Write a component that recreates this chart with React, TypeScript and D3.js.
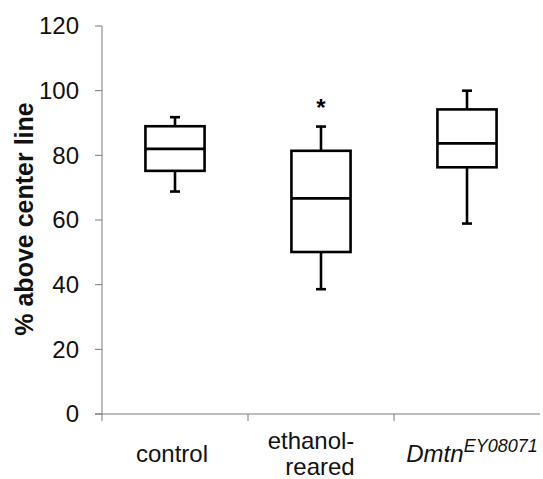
import React from 'react';
import * as d3 from 'd3';

// values
const categories = ['control', 'ethanol-reared', 'Dmtn'];
const whiskerLow = [68.8, 38.6, 58.9];
const q1 = [75.2, 50.1, 76.3];
const median = [82.0, 66.7, 83.7];
const q3 = [89.0, 81.4, 94.2];
const whiskerHigh = [91.8, 88.9, 100.0];
const significant = [false, true, false];
const yTicks = [0, 20, 40, 60, 80, 100, 120];
const yLabel = '% above center line';

const width = 543;
const height = 479;
const margin = { top: 26, right: 3, bottom: 65, left: 102 };
const font = '"Liberation Sans", Arial, sans-serif';

const App = () => {
    const x = d3
        .scaleBand<string>()
        .domain(categories)
        .range([margin.left, width - margin.right])
        .padding(0);
    const y = d3
        .scaleLinear()
        .domain([0, 120])
        .range([height - margin.bottom, margin.top]);

    const bw = x.bandwidth();
    const boxW = bw * 0.405;
    const capW = 10;
    const axisColor = '#7a7a7a';
    const y0 = y(0);

    return (
        <svg
            width={width}
            height={height}
            style={{ position: 'absolute', left: 0, top: 0, background: '#fff' }}
            fontFamily={font}
        >
            {/* y axis */}
            <line x1={margin.left} x2={margin.left} y1={y(120)} y2={y0} stroke={axisColor} strokeWidth={1} />
            {yTicks.map((t) => (
                <g key={t}>
                    <line x1={margin.left - 7} x2={margin.left} y1={y(t)} y2={y(t)} stroke={axisColor} strokeWidth={1} />
                    <text x={margin.left - 23} y={y(t)} dy="0.35em" textAnchor="end" fontSize={24} fill="#111">
                        {t}
                    </text>
                </g>
            ))}
            <text
                transform={`translate(33,219) rotate(-90)`}
                textAnchor="middle"
                fontSize={25}
                fontWeight="bold"
                fill="#111"
            >
                {yLabel}
            </text>

            {/* x axis */}
            <line x1={margin.left - 7} x2={width - margin.right} y1={y0} y2={y0} stroke={axisColor} strokeWidth={1} />
            {categories.map((c) => (
                <line key={c} x1={x(c)} x2={x(c)} y1={y0} y2={y0 + 7} stroke={axisColor} strokeWidth={1} />
            ))}

            {/* category labels */}
            <text x={x('control')! + bw / 2 - 3} y={462} textAnchor="middle" fontSize={24} fill="#111">
                control
            </text>
            <text x={x('ethanol-reared')! + bw / 2 - 10} y={449} textAnchor="middle" fontSize={24} fill="#111">
                ethanol-
            </text>
            <text x={x('ethanol-reared')! + bw / 2 - 1} y={475} textAnchor="middle" fontSize={24} fill="#111">
                reared
            </text>
            <text x={x('Dmtn')! + bw / 2 + 5} y={462} textAnchor="middle" fontSize={24} fontStyle="italic" fill="#111">
                Dmtn
                <tspan fontSize={18} dy={-10}>
                    EY08071
                </tspan>
            </text>

            {/* boxes */}
            {categories.map((c, i) => {
                const cx = x(c)! + bw / 2;
                return (
                    <g key={c} stroke="#000" strokeWidth={2.6} fill="none">
                        <line x1={cx} x2={cx} y1={y(whiskerHigh[i])} y2={y(q3[i])} />
                        <line x1={cx} x2={cx} y1={y(q1[i])} y2={y(whiskerLow[i])} />
                        <line x1={cx - capW / 2} x2={cx + capW / 2} y1={y(whiskerHigh[i])} y2={y(whiskerHigh[i])} />
                        <line x1={cx - capW / 2} x2={cx + capW / 2} y1={y(whiskerLow[i])} y2={y(whiskerLow[i])} />
                        <rect x={cx - boxW / 2} y={y(q3[i])} width={boxW} height={y(q1[i]) - y(q3[i])} fill="#fff" />
                        <line x1={cx - boxW / 2} x2={cx + boxW / 2} y1={y(median[i])} y2={y(median[i])} />
                        {significant[i] && (
                            <text
                                x={cx}
                                y={y(whiskerHigh[i]) - 11}
                                textAnchor="middle"
                                fontSize={24}
                                fontWeight="bold"
                                fill="#000"
                                stroke="none"
                            >
                                *
                            </text>
                        )}
                    </g>
                );
            })}
        </svg>
    );
};

export default App;
